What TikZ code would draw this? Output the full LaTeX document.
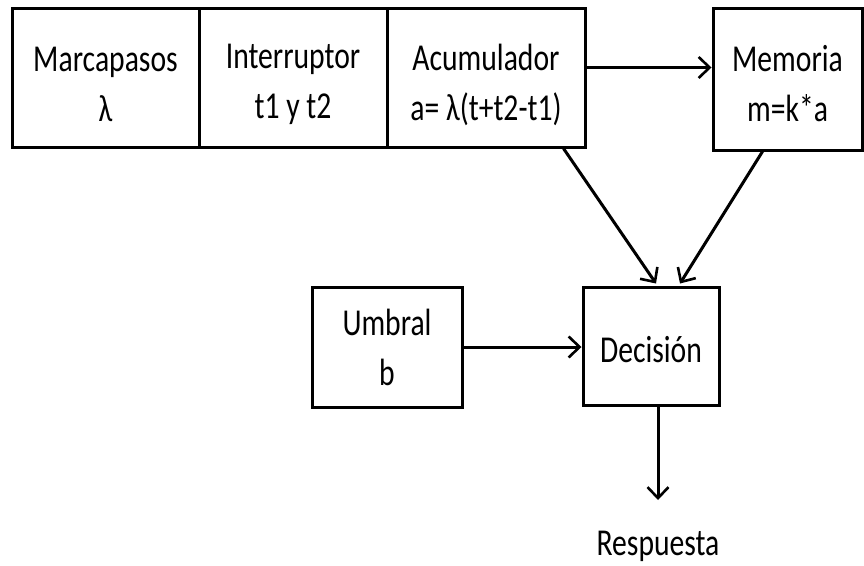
\documentclass[tikz,border=0pt]{standalone}
\usepackage{fontspec}
\setmainfont{Carlito}
\usetikzlibrary{arrows.meta}
\newcommand{\sq}[1]{\scalebox{0.78}[1]{#1}}
\begin{document}
\begin{tikzpicture}[x=1pt,y=-1pt,
  box/.style={draw=black,line width=3pt,rectangle,inner sep=0pt},
  lbl/.style={inner sep=0pt,align=center,font=\fontsize{38}{50}\selectfont},
  arr/.style={line width=3pt,-{Straight Barb[length=11pt,width=21pt,line width=2.6pt]}}]
\useasboundingbox (0,0) rectangle (864,565);
\node[box,minimum width=187pt,minimum height=139pt] (marc) at (105.5,77.5) {};
\node[box,minimum width=188pt,minimum height=139pt] (inter) at (293,77.5) {};
\node[box,minimum width=198pt,minimum height=139pt] (acum) at (486,77.5) {};
\node[box,minimum width=149pt,minimum height=142pt] (mem) at (787.5,79) {};
\node[box,minimum width=150pt,minimum height=120pt] (umb) at (387,347) {};
\node[box,minimum width=136pt,minimum height=118pt] (dec) at (651,346) {};
\node[lbl] (marcT) at ([yshift=-7pt]marc.center) {\sq{Marcapasos}\\\sq{λ}};
\node[lbl] (interT) at ([yshift=-7pt]inter.center) {\sq{Interruptor}\\\sq{t1 y t2}};
\node[lbl] (acumT) at ([yshift=-7pt]acum.center) {\sq{Acumulador}\\\sq{a= λ(t+t2-t1)}};
\node[lbl] (memT) at ([yshift=-5pt]mem.center) {\sq{Memoria}\\\sq{m=k*a}};
\node[lbl] (umbT) at (umb.center) {\sq{Umbral}\\\sq{b}};
\node[lbl] (decT) at ([yshift=-4pt]dec.center) {\sq{Decisión}};
\node[lbl,anchor=base] (resp) at (658,555) {\sq{Respuesta}};
\coordinate (respin) at (658,500);
\draw[arr] ([yshift=10pt]acum.east) -- ([yshift=10pt]acum.east -| mem.west);
\draw[arr] ([xshift=-23pt]acum.south east) -- ([xshift=5pt,yshift=2pt]dec.north);
\draw[arr] ([xshift=-25pt]mem.south) -- ([xshift=29pt,yshift=2pt]dec.north);
\draw[arr] (umb.east) -- (umb.east -| dec.west);
\draw[arr] ([xshift=7pt]dec.south) -- (respin);
\end{tikzpicture}
\end{document}
